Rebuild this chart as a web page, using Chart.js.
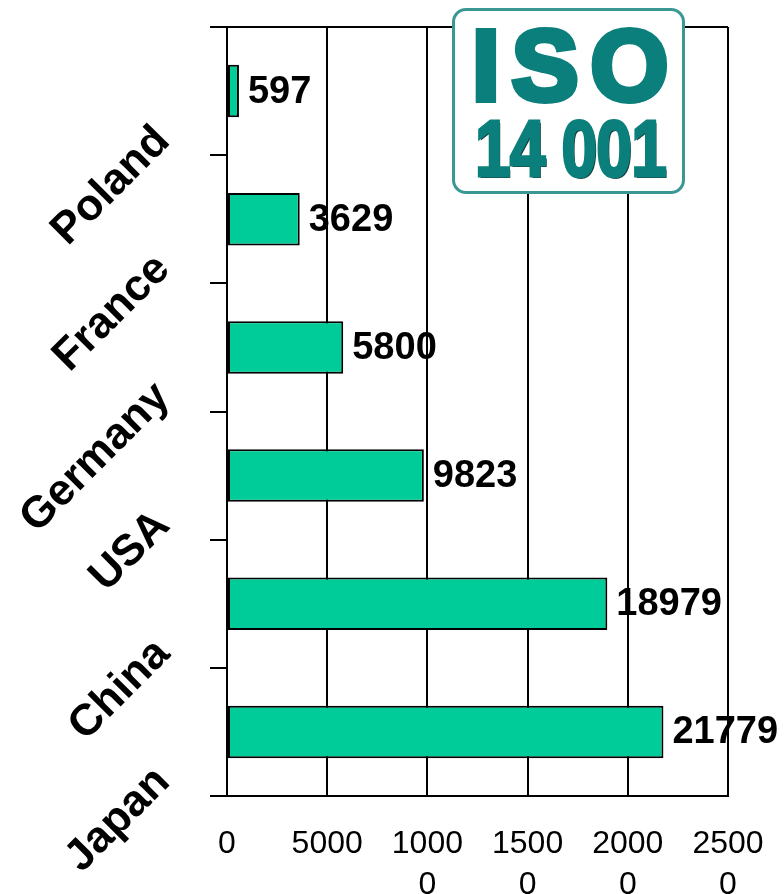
<!DOCTYPE html>
<html>
<head>
<meta charset="utf-8">
<script src="https://cdn.jsdelivr.net/npm/chart.js@4.4.1/dist/chart.umd.min.js"></script>
<style>
    body { margin: 0; background: #fff; }
    .container { position: relative; width: 784px; height: 894px; }
    .logo {
        position: absolute; left: 452px; top: 8px; width: 227px; height: 180px;
        border: 3px solid #3a9893; border-radius: 14px; background: #fff;
        font-family: "Liberation Sans", Arial, sans-serif; font-weight: bold; color: #0b7f7b;
        text-shadow: 2px 2px 0 #173a3a;
    }
    .logo .iso {
        position: absolute; left: 17px; top: -3px; font-size: 100px; letter-spacing: 12px;
        -webkit-text-stroke: 6px #0b7f7b;
    }
    .logo .num {
        position: absolute; left: 20px; top: 92px; font-size: 80px; letter-spacing: -1px;
        transform: scaleX(0.8); transform-origin: left top; white-space: nowrap;
        -webkit-text-stroke: 3px #0b7f7b;
    }
</style>
</head>
<body>
<div class="container">
    <canvas id="chart"></canvas>
    <div class="logo"><span class="iso">ISO</span><span class="num">14 001</span></div>
</div>
<script>
const countries = ['Poland', 'France', 'Germany', 'USA', 'China', 'Japan']
const certificates = [597, 3629, 5800, 9823, 18979, 21779]
const x_tick_labels = [['0'], ['5000'], ['1000', '0'], ['1500', '0'], ['2000', '0'], ['2500', '0']]

const FONT = '"Liberation Sans", Arial, sans-serif'
const COLORS = {
    bar: '#00cc99',
    line: '#000000',
}

// write each value right after the end of its bar
const value_labels = {
    id: 'value_labels',
    afterDatasetsDraw(chart){
        const ctx = chart.ctx
        const meta = chart.getDatasetMeta(0)
        ctx.save()
        ctx.font = `bold 38px ${FONT}`
        ctx.fillStyle = '#000'
        ctx.textAlign = 'left'
        ctx.textBaseline = 'middle'
        meta.data.forEach((bar, i) => {
            ctx.fillText(String(certificates[i]), bar.x + 9, bar.y + 1)
        })
        ctx.restore()
    }
}

const ctx = document.getElementById('chart').getContext('2d')
new Chart(ctx, {
    type: 'bar',
    data: {
        labels: countries,
        datasets: [{
            data: certificates,
            backgroundColor: COLORS.bar,
            borderColor: COLORS.line,
            borderWidth: 2,
            borderSkipped: false,
            barPercentage: 0.41,
            categoryPercentage: 1
        }]
    },
    options: {
        indexAxis: 'y',
        responsive: true,
        maintainAspectRatio: false,
        animation: false,
        layout: { padding: { top: 27, right: 56, left: 0, bottom: 0 } },
        plugins: {
            legend: { display: false },
            tooltip: { enabled: false }
        },
        scales: {
            x: {
                min: 0,
                max: 25000,
                ticks: {
                    stepSize: 5000,
                    maxRotation: 0,
                    padding: 27,
                    color: '#000',
                    font: { family: FONT, size: 32, lineHeight: 1.3 },
                    callback: (value, index) => x_tick_labels[index]
                },
                grid: { color: COLORS.line, lineWidth: 2, drawTicks: false },
                border: { color: COLORS.line, width: 2 },
                afterFit: scale => { scale.height = 98; scale.paddingLeft = 0; scale.paddingRight = 0 }
            },
            y: {
                ticks: {
                    autoSkip: false,
                    minRotation: 45,
                    maxRotation: 45,
                    labelOffset: 43,
                    padding: 47,
                    color: '#000',
                    font: { family: FONT, size: 44, weight: 'bold' }
                },
                grid: {
                    color: c => (c.index === 0 ? COLORS.line : 'rgba(0,0,0,0)'),
                    tickColor: COLORS.line,
                    tickLength: 17,
                    lineWidth: 2
                },
                border: { color: COLORS.line, width: 2 },
                afterFit: scale => { scale.width = 227; scale.paddingTop = 0; scale.paddingBottom = 0 }
            }
        }
    },
    plugins: [value_labels]
})
</script>
</body>
</html>
